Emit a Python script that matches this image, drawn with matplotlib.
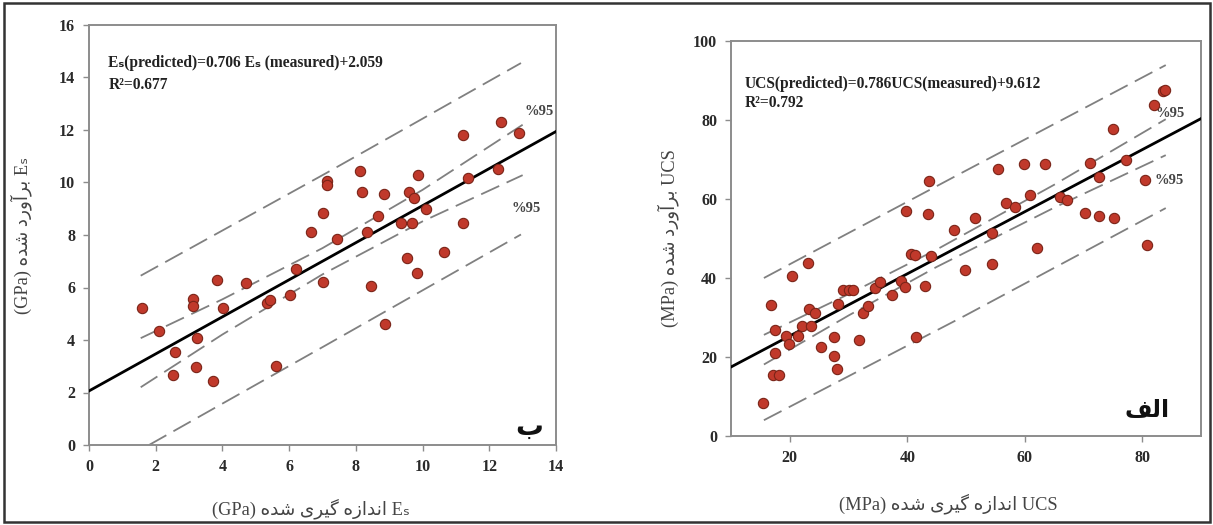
import matplotlib
matplotlib.use("Agg")
import matplotlib.pyplot as plt
from matplotlib.patches import Rectangle

# ---------------- data ----------------
# Left panel (ب): Es measured vs predicted (GPa)
es_measured = [1.58, 2.10, 2.58, 2.53, 3.11, 3.11, 3.23, 3.20, 3.71, 3.83,
               4.03, 4.71, 5.35, 5.44, 5.60, 6.02, 6.20, 6.67, 7.00, 7.02,
               7.12, 7.14, 7.44, 8.12, 8.17, 8.32, 8.45, 8.65, 8.84, 8.88,
               9.35, 9.52, 9.59, 9.67, 9.75, 9.82, 9.87, 10.10, 10.64, 11.22,
               11.22, 11.35, 12.25, 12.35, 12.90]
es_predicted = [5.21, 4.36, 3.56, 2.67, 5.55, 5.30, 4.06, 2.98, 2.44, 6.29,
                5.21, 6.16, 5.40, 5.52, 3.01, 5.71, 6.70, 8.13, 6.20, 8.83,
                10.07, 9.90, 7.83, 10.45, 9.63, 8.13, 6.07, 8.72, 9.55, 4.60,
                8.47, 7.11, 9.63, 8.44, 9.40, 6.54, 10.29, 8.98, 7.37, 11.81,
                8.44, 10.16, 10.50, 12.30, 11.87]
es_slope, es_intercept = 0.706, 2.059
es_r2 = "0.677"
# 95% bands
es_ci_x = [1.55, 4.0, 7.0, 10.0, 13.0]
es_ci_upper = [4.07, 5.55, 7.50, 9.72, 12.20]
es_ci_lower = [2.20, 4.21, 6.50, 8.52, 10.28]
es_pi_x_up = [1.55, 7.1, 12.95]
es_pi_upper = [6.45, 10.35, 14.55]
es_pi_x_lo = [1.80, 7.1, 12.95]
es_pi_lower = [0.0, 3.80, 8.02]
es_xticks = [0, 2, 4, 6, 8, 10, 12, 14]
es_yticks = [0, 2, 4, 6, 8, 10, 12, 14, 16]

# Right panel (الف): UCS measured vs predicted (MPa)
ucs_measured = [15.45, 16.88, 17.56, 17.56, 17.16, 18.13, 19.43, 19.83, 20.40, 21.43,
                22.10, 23.10, 23.23, 24.25, 23.70, 25.40, 27.55, 27.55, 28.10, 28.20,
                29.07, 30.04, 30.77, 31.74, 32.47, 33.32, 34.45, 35.30, 37.40, 39.00,
                39.57, 39.85, 40.70, 41.40, 41.57, 42.99, 43.55, 43.67, 44.12, 47.98,
                49.90, 51.50, 54.45, 54.45, 55.47, 56.77, 58.30, 59.84, 60.86, 62.17,
                63.40, 66.00, 67.13, 70.25, 71.10, 72.60, 72.60, 75.10, 75.20, 77.15,
                80.50, 80.80, 82.00, 83.50, 83.90]
ucs_predicted = [8.42, 33.08, 26.77, 21.04, 15.32, 15.32, 25.42, 23.40, 40.57, 25.25,
                 27.78, 43.77, 32.15, 31.14, 27.78, 22.56, 25.08, 20.37, 17.00, 33.42,
                 37.04, 36.87, 37.04, 24.24, 31.14, 32.83, 37.46, 38.89, 35.77, 39.14,
                 37.71, 57.07, 46.13, 45.88, 25.08, 37.88, 56.23, 64.65, 45.45, 52.19,
                 41.92, 55.13, 51.35, 43.60, 67.50, 58.92, 58.08, 68.86, 61.03, 47.56,
                 68.86, 60.44, 59.76, 56.40, 69.19, 65.66, 55.72, 77.60, 55.13, 69.90,
                 64.80, 48.40, 83.80, 87.40, 87.70]
ucs_slope, ucs_intercept = 0.786, 9.612
ucs_r2 = "0.792"
ucs_ci_x = [15.6, 30.0, 45.0, 65.0, 84.0]
ucs_ci_upper = [25.6, 35.9, 47.2, 63.6, 80.2]
ucs_ci_lower = [18.1, 30.5, 42.8, 57.8, 71.1]
ucs_pi_x = [15.6, 50.0, 84.0]
ucs_pi_upper = [40.0, 67.2, 93.9]
ucs_pi_lower = [4.0, 30.6, 57.7]
ucs_xticks = [20, 40, 60, 80]
ucs_yticks = [0, 20, 40, 60, 80, 100]

# ---------------- minimal Persian shaping (presentation forms) ----------------
AR_FORMS = {
    'ا': ('\uFE8D', '\uFE8E', None, None),
    'آ': ('\uFE81', '\uFE82', None, None),
    'ب': ('\uFE8F', '\uFE90', '\uFE91', '\uFE92'),
    'د': ('\uFEA9', '\uFEAA', None, None),
    'ر': ('\uFEAD', '\uFEAE', None, None),
    'ز': ('\uFEAF', '\uFEB0', None, None),
    'ش': ('\uFEB5', '\uFEB6', '\uFEB7', '\uFEB8'),
    'ف': ('\uFED1', '\uFED2', '\uFED3', '\uFED4'),
    'ل': ('\uFEDD', '\uFEDE', '\uFEDF', '\uFEE0'),
    'ن': ('\uFEE5', '\uFEE6', '\uFEE7', '\uFEE8'),
    'ه': ('\uFEE9', '\uFEEA', '\uFEEB', '\uFEEC'),
    'و': ('\uFEED', '\uFEEE', None, None),
    'گ': ('\uFB92', '\uFB93', '\uFB94', '\uFB95'),
    'ی': ('\uFBFC', '\uFBFD', '\uFBFE', '\uFBFF'),
}


def shape_word(w):
    out = []
    for i, c in enumerate(w):
        f = AR_FORMS[c]
        prev = w[i - 1] if i > 0 else None
        nxt = w[i + 1] if i < len(w) - 1 else None
        jp = prev is not None and AR_FORMS[prev][2] is not None
        jn = nxt is not None and f[2] is not None
        if jp and jn:
            out.append(f[3])
        elif jp:
            out.append(f[1])
        elif jn:
            out.append(f[2])
        else:
            out.append(f[0])
    return ''.join(out)


def rtl(s):
    return ' '.join(shape_word(w) for w in s.split(' '))[::-1]


SERIF = ['Liberation Serif', 'DejaVu Sans']
plt.rcParams['font.family'] = SERIF

W, H = 1213, 525
fig = plt.figure(figsize=(W / 100, H / 100), dpi=100)
fig.patch.set_facecolor('white')
fig.patches.append(Rectangle((4 / W, 3 / H), 1206 / W, 519 / H, transform=fig.transFigure,
                             fill=False, edgecolor='#333333', linewidth=1.8))

SPINE = '#8c8c8c'
DASH = '#808080'
FACE = '#c0392b'
EDGE = '#7a2418'


def style_axes(ax):
    for sp in ax.spines.values():
        sp.set_color(SPINE)
        sp.set_linewidth(1.4)
    ax.tick_params(direction='out', length=4, width=1.0, color=SPINE, pad=6,
                   labelsize=11.5, labelcolor='#2a2a2a')
    for lab in ax.get_xticklabels() + ax.get_yticklabels():
        lab.set_fontweight('bold')
        lab.set_family(SERIF)


def dashed(ax, xs, ys):
    ax.plot(xs, ys, color=DASH, lw=1.3, dashes=(11, 4.5), zorder=2)


EQ_FS = 11.2
LAB_FS = 13.2

# ---------------- left panel ----------------
ax1 = fig.add_axes([89 / W, 1 - 445 / H, (556 - 89) / W, (445 - 25) / H])
ax1.set_xlim(0, 14)
ax1.set_ylim(0, 16)
ax1.set_xticks(es_xticks)
ax1.set_yticks(es_yticks)
dashed(ax1, es_pi_x_up, es_pi_upper)
dashed(ax1, es_pi_x_lo, es_pi_lower)
dashed(ax1, es_ci_x, es_ci_upper)
dashed(ax1, es_ci_x, es_ci_lower)
ax1.axline((0, es_intercept), slope=es_slope, color='black', lw=2.0, zorder=3)
ax1.scatter(es_measured, es_predicted, s=55, c=FACE, edgecolors=EDGE, linewidths=0.8,
            zorder=4, clip_on=False)
style_axes(ax1)
ax1.text(0.58, 14.55, f"Eₛ(predicted)={es_slope} Eₛ (measured)+{es_intercept}",
         fontsize=EQ_FS, fontweight='bold', va='center', ha='left', color='#222222')
ax1.text(0.58, 13.7, f"R²={es_r2}", fontsize=EQ_FS, fontweight='bold', va='center',
         ha='left', color='#222222')
ax1.text(13.5, 12.7, "%95", fontsize=10.5, fontweight='bold', ha='center', va='center',
         color='#444444')
ax1.text(13.1, 9.0, "%95", fontsize=10.5, fontweight='bold', ha='center', va='center',
         color='#444444')
ax1.text(13.2, 0.7, rtl('ب'), fontsize=20, fontweight='bold', ha='center', va='center',
         family=['DejaVu Sans'], color='#111111')
ax1.set_xlabel("(GPa) " + rtl('اندازه گیری شده') + " Eₛ", fontsize=LAB_FS,
               color='#444444')
ax1.xaxis.set_label_coords(0.475, -0.128)
ax1.set_ylabel("(GPa) " + rtl('برآورد شده') + " Eₛ", fontsize=LAB_FS,
               color='#444444')
ax1.yaxis.set_label_coords(-0.122, 0.5)

# ---------------- right panel ----------------
ax2 = fig.add_axes([731 / W, 1 - 436 / H, (1201 - 731) / W, (436 - 41) / H])
ax2.set_xlim(10, 90)
ax2.set_ylim(0, 100)
ax2.set_xticks(ucs_xticks)
ax2.set_yticks(ucs_yticks)
dashed(ax2, ucs_pi_x, ucs_pi_upper)
dashed(ax2, ucs_pi_x, ucs_pi_lower)
dashed(ax2, ucs_ci_x, ucs_ci_upper)
dashed(ax2, ucs_ci_x, ucs_ci_lower)
ax2.axline((0, ucs_intercept), slope=ucs_slope, color='black', lw=2.0, zorder=3)
ax2.scatter(ucs_measured, ucs_predicted, s=55, c=FACE, edgecolors=EDGE, linewidths=0.8,
            zorder=4, clip_on=False)
style_axes(ax2)
ax2.text(12.3, 89.2, f"UCS(predicted)={ucs_slope}UCS(measured)+{ucs_intercept}",
         fontsize=EQ_FS, fontweight='bold', va='center', ha='left', color='#222222')
ax2.text(12.3, 84.2, f"R²={ucs_r2}", fontsize=EQ_FS, fontweight='bold', va='center',
         ha='left', color='#222222')
ax2.text(84.8, 81.7, "%95", fontsize=10.5, fontweight='bold', ha='center', va='center',
         color='#444444')
ax2.text(84.6, 64.8, "%95", fontsize=10.5, fontweight='bold', ha='center', va='center',
         color='#444444')
ax2.text(80.8, 6.5, rtl('الف'), fontsize=17, fontweight='bold', ha='center', va='center',
         family=['DejaVu Sans'], color='#111111')
ax2.set_xlabel("(MPa) " + rtl('اندازه گیری شده') + " UCS", fontsize=LAB_FS,
               color='#444444')
ax2.xaxis.set_label_coords(0.462, -0.145)
ax2.set_ylabel("(MPa) " + rtl('برآورد شده') + " UCS", fontsize=LAB_FS,
               color='#444444')
ax2.yaxis.set_label_coords(-0.111, 0.5)

fig.savefig("out.png", dpi=100, facecolor='white')
